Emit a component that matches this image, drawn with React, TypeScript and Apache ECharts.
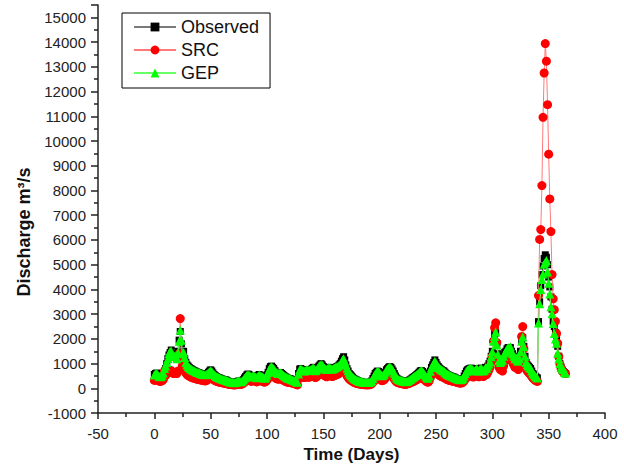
import React, { useEffect, useRef } from "react";
import * as echarts from "echarts";

// Daily discharge (m3/s), day 0..365
const observed = [
  560, 600, 620, 540, 480, 450, 470, 520, 600, 700,
  800, 1000, 1200, 1350, 1450, 1550, 1400, 1250, 1300, 1350,
  1200, 1500, 1950, 2300, 1800, 1450, 1500, 1200, 1050, 950,
  900, 850, 800, 780, 750, 720, 700, 680, 650, 640,
  620, 600, 580, 560, 550, 540, 560, 600, 650, 700,
  750, 700, 620, 560, 520, 480, 450, 430, 420, 400,
  380, 360, 350, 340, 330, 300, 280, 260, 250, 240,
  230, 220, 230, 250, 280, 300, 280, 260, 300, 350,
  420, 480, 540, 580, 560, 500, 450, 500, 520, 480,
  450, 420, 500, 560, 520, 480, 460, 420, 400, 450,
  550, 650, 800, 880, 900, 850, 800, 720, 650, 620,
  600, 620, 640, 600, 560, 520, 480, 450, 420, 400,
  400, 380, 360, 340, 320, 300, 260, 230, 600, 780,
  800, 760, 720, 700, 720, 760, 740, 720, 740, 760,
  800, 850, 780, 700, 750, 820, 900, 950, 1000, 950,
  880, 820, 780, 750, 800, 850, 820, 780, 760, 800,
  820, 850, 880, 900, 950, 1000, 1100, 1200, 1280, 1150,
  950, 800, 700, 600, 550, 500, 450, 400, 370, 350,
  320, 300, 280, 270, 260, 250, 240, 240, 230, 230,
  230, 240, 260, 300, 400, 500, 600, 650, 700, 680,
  620, 550, 500, 520, 560, 650, 750, 800, 850, 880,
  850, 780, 700, 600, 500, 420, 380, 350, 330, 320,
  300, 280, 270, 260, 270, 300, 320, 350, 380, 420,
  450, 480, 520, 560, 600, 650, 700, 720, 680, 620,
  550, 480, 420, 400, 500, 700, 850, 950, 1050, 1150,
  1050, 950, 880, 820, 780, 750, 720, 700, 650, 600,
  560, 540, 520, 500, 480, 470, 450, 430, 400, 380,
  360, 350, 340, 360, 400, 500, 600, 700, 750, 780,
  800, 820, 780, 720, 700, 750, 800, 750, 700, 780,
  820, 750, 700, 750, 850, 800, 900, 1000, 1100, 1300,
  1500, 1900, 2200, 2250, 1800, 1400, 1150, 1050, 1100, 1150,
  1300, 1450, 1500, 1600, 1650, 1550, 1650, 1500, 1400, 1300,
  1200, 1250, 1150, 1100, 1200, 1500, 1950, 2050, 1700, 1300,
  1050, 950, 900, 850, 800, 700, 600, 550, 500, 450,
  420, 2700, 3500, 4150, 4600, 4950, 5250, 5400, 5300, 5000,
  4500, 4100, 3700, 3200, 2700, 2500, 2250, 2000, 1700, 1300,
  1000, 850, 750, 680, 640, 600,
];

const src = [
  320, 350, 380, 330, 300, 280, 290, 310, 360, 700,
  520, 600, 650, 680, 700, 720, 650, 600, 620, 650,
  600, 700, 1400, 2820, 1300, 900, 800, 700, 620, 560,
  520, 500, 470, 450, 430, 410, 400, 380, 370, 360,
  350, 340, 330, 320, 310, 300, 310, 340, 370, 400,
  450, 420, 380, 340, 310, 290, 270, 260, 250, 240,
  230, 220, 210, 200, 190, 180, 170, 160, 155, 150,
  145, 140, 145, 155, 170, 180, 170, 160, 180, 210,
  250, 290, 330, 360, 350, 310, 280, 310, 330, 300,
  280, 260, 310, 350, 320, 300, 290, 260, 250, 280,
  340, 400, 500, 560, 580, 540, 500, 450, 400, 380,
  370, 380, 400, 370, 340, 320, 290, 270, 250, 240,
  240, 230, 220, 210, 200, 180, 160, 140, 380, 500,
  520, 480, 450, 440, 450, 480, 470, 450, 470, 480,
  510, 540, 500, 440, 470, 520, 580, 610, 650, 610,
  560, 520, 500, 470, 510, 540, 520, 500, 480, 510,
  520, 540, 560, 580, 610, 650, 720, 800, 860, 740,
  610, 510, 440, 380, 340, 310, 280, 250, 230, 210,
  200, 190, 175, 170, 160, 155, 150, 150, 145, 145,
  145, 150, 160, 190, 250, 310, 380, 410, 440, 430,
  390, 340, 310, 320, 350, 410, 480, 510, 550, 570,
  550, 500, 440, 380, 310, 260, 240, 220, 210, 200,
  190, 175, 170, 165, 170, 190, 200, 220, 240, 260,
  280, 300, 330, 350, 380, 410, 440, 460, 430, 390,
  340, 300, 260, 250, 310, 440, 560, 640, 720, 820,
  720, 640, 580, 530, 500, 480, 460, 440, 410, 380,
  350, 340, 320, 310, 300, 290, 280, 270, 250, 240,
  225, 220, 210, 225, 250, 310, 380, 440, 480, 500,
  510, 530, 500, 460, 480, 520, 560, 520, 470, 540,
  580, 520, 480, 520, 620, 560, 650, 750, 850, 1050,
  1300, 1900, 2450, 2650, 1850, 1200, 850, 760, 800, 700,
  900, 1100, 1150, 1300, 1350, 1200, 1300, 1150, 1050, 950,
  850, 900, 820, 760, 850, 1200, 2100, 2500, 1600, 1000,
  780, 700, 650, 600, 560, 480, 420, 380, 330, 300,
  280, 3750, 6020, 6420, 8200, 10960, 12750, 13940, 13230, 11470,
  9470, 7660, 6340, 4600, 3620, 3180, 2710, 2220, 1820, 1280,
  960, 800, 700, 650, 620, 600,
];

const gep = [
  540, 580, 600, 560, 500, 470, 480, 530, 620, 800,
  900, 1050, 1200, 1400, 1500, 1500, 1380, 1300, 1300, 1300,
  1200, 1450, 1900, 2350, 1950, 1400, 1450, 1250, 1050, 950,
  880, 840, 800, 770, 740, 720, 700, 670, 650, 640,
  620, 600, 580, 570, 560, 550, 560, 590, 630, 670,
  700, 680, 610, 560, 520, 480, 460, 440, 420, 400,
  380, 370, 350, 340, 320, 300, 290, 270, 260, 250,
  240, 230, 240, 260, 280, 300, 290, 270, 300, 350,
  410, 460, 520, 550, 540, 500, 460, 490, 510, 480,
  460, 430, 490, 540, 510, 480, 460, 430, 410, 450,
  540, 640, 760, 840, 860, 830, 790, 720, 660, 630,
  600, 610, 630, 600, 560, 520, 490, 460, 430, 410,
  400, 380, 360, 340, 320, 300, 270, 250, 580, 750,
  780, 750, 720, 700, 710, 750, 740, 720, 740, 760,
  790, 830, 780, 710, 750, 810, 880, 930, 970, 940,
  870, 820, 780, 760, 800, 840, 820, 790, 770, 800,
  820, 850, 870, 890, 930, 980, 1060, 1150, 1200, 1100,
  950, 810, 710, 620, 560, 510, 460, 420, 380, 360,
  330, 310, 290, 280, 270, 260, 250, 250, 240, 240,
  240, 250, 270, 310, 400, 490, 580, 640, 690, 680,
  620, 560, 510, 530, 570, 650, 740, 790, 830, 860,
  830, 770, 700, 610, 510, 430, 390, 360, 340, 330,
  310, 290, 280, 270, 280, 300, 330, 360, 390, 430,
  460, 490, 520, 560, 600, 640, 690, 710, 680, 620,
  560, 490, 430, 410, 500, 690, 840, 930, 1020, 1100,
  1030, 940, 870, 820, 780, 750, 720, 700, 650, 610,
  570, 550, 530, 510, 490, 470, 450, 430, 410, 390,
  370, 360, 350, 370, 410, 500, 600, 690, 740, 770,
  790, 810, 780, 720, 700, 740, 790, 750, 700, 770,
  810, 750, 700, 740, 840, 800, 890, 990, 1080, 1280,
  1480, 1900, 2100, 2280, 1750, 1380, 1130, 1050, 1100, 1150,
  1300, 1430, 1500, 1580, 1650, 1550, 1680, 1500, 1400, 1300,
  1200, 1250, 1150, 1100, 1200, 1480, 1900, 2080, 1680, 1300,
  1050, 950, 900, 850, 800, 700, 620, 560, 500, 460,
  420, 2640, 3420, 4000, 4400, 4620, 5020, 5100, 5170, 4700,
  4250, 3820, 3300, 3020, 2620, 2220, 2000, 1820, 1420, 1200,
  1010, 850, 780, 750, 650, 610,
];

const days = observed.map((_, i) => i);
const seriesNames = ["Observed", "SRC", "GEP"];
const xTicks = { min: -50, max: 400, interval: 50 };
const yTicks = { min: -1000, max: 15500, interval: 1000, lastLabel: 15000 };

const FONT = "'Liberation Sans', Arial, sans-serif";

export default function App() {
  const ref = useRef<HTMLDivElement>(null);
  useEffect(() => {
    if (!ref.current) return;
    const chart = echarts.init(ref.current, null, { renderer: "svg" });
    const pairs = (vals: number[]) => days.map((d, i) => [d, vals[i]]);
    chart.setOption({
      animation: false,
      backgroundColor: "#ffffff",
      grid: { left: 98, right: 19, top: 5, bottom: 51, containLabel: false },
      legend: {
        orient: "vertical",
        left: 122,
        top: 13,
        padding: [5, 11, 6, 11],
        itemGap: 5,
        itemWidth: 42,
        itemHeight: 11,
        borderColor: "#000",
        borderWidth: 1,
        backgroundColor: "#fff",
        textStyle: { fontFamily: FONT, fontSize: 18, color: "#111" },
        data: seriesNames,
      },
      xAxis: {
        type: "value",
        min: xTicks.min,
        max: xTicks.max,
        interval: xTicks.interval,
        name: "Time (Days)",
        nameLocation: "middle",
        nameGap: 27,
        nameTextStyle: { fontFamily: FONT, fontSize: 17, fontWeight: "bold", color: "#111" },
        axisLine: { show: true, onZero: false, lineStyle: { color: "#222", width: 1.5 } },
        axisTick: { show: true, inside: false, length: 6, lineStyle: { color: "#222", width: 1.5 } },
        minorTick: { show: true, splitNumber: 2, length: 4, lineStyle: { color: "#222", width: 1.5 } },
        splitLine: { show: false },
        axisLabel: { fontFamily: FONT, fontSize: 15, color: "#222", margin: 13, formatter: (v: number) => String(v) },
      },
      yAxis: {
        type: "value",
        min: yTicks.min,
        max: yTicks.max,
        interval: yTicks.interval,
        name: "Discharge m³/s",
        nameLocation: "middle",
        nameGap: 65,
        nameTextStyle: {
          fontFamily: FONT,
          fontSize: 18,
          fontWeight: "bold",
          color: "#111",
          padding: [0, 46, 0, 0],
        },
        axisLine: { show: true, onZero: false, lineStyle: { color: "#222", width: 1.5 } },
        axisTick: { show: true, inside: false, length: 7, lineStyle: { color: "#222", width: 1.5 } },
        minorTick: { show: true, splitNumber: 2, length: 4, lineStyle: { color: "#222", width: 1.5 } },
        splitLine: { show: false },
        axisLabel: {
          fontFamily: FONT,
          fontSize: 15,
          color: "#222",
          margin: 12,
          formatter: (v: number) => (v > yTicks.lastLabel ? "" : String(v)),
        },
      },
      series: [
        {
          name: "Observed",
          type: "line",
          data: pairs(observed),
          symbol: "rect",
          symbolSize: 7,
          itemStyle: { color: "#000" },
          lineStyle: { color: "#7a7a7a", width: 1 },
          z: 2,
        },
        {
          name: "SRC",
          type: "line",
          data: pairs(src),
          symbol: "circle",
          symbolSize: 9,
          itemStyle: { color: "#ff0000" },
          lineStyle: { color: "#ff7a7a", width: 1 },
          z: 3,
        },
        {
          name: "GEP",
          type: "line",
          data: pairs(gep),
          symbol: "triangle",
          symbolSize: 9,
          itemStyle: { color: "#00ff00" },
          lineStyle: { color: "#66ff66", width: 1 },
          z: 4,
        },
      ],
    });
    return () => chart.dispose();
  }, []);
  return (
    <div
      ref={ref}
      style={{ position: "fixed", left: 0, top: 0, width: 624, height: 468, background: "#fff" }}
    />
  );
}
